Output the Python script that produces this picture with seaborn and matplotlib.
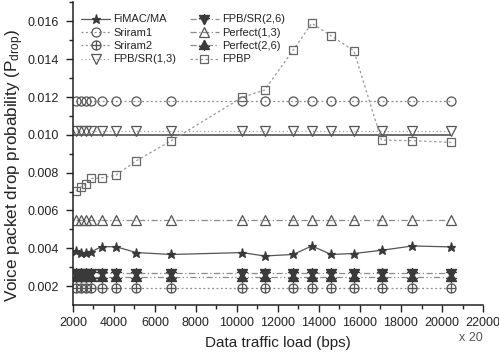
import numpy as np
import pandas as pd
import matplotlib
matplotlib.use("Agg")
import matplotlib.pyplot as plt
from matplotlib.path import Path
from matplotlib.markers import MarkerStyle
import seaborn as sns

# Offered data load (in units of 20 bps)
load = [2150, 2400, 2650, 2900, 3400, 4100, 5100, 6800, 10250, 11350,
        12750, 13650, 14600, 15700, 17050, 18550, 20450]

fimac_ma = [0.00385, 0.00375, 0.00375, 0.00382, 0.00408, 0.00408, 0.00377, 0.00367,
            0.00377, 0.00359, 0.00367, 0.00412, 0.00367, 0.00372, 0.00389, 0.00412, 0.00407]
sriram1 = [0.0118] * len(load)
sriram2 = [0.0019] * len(load)
fpb_sr_13 = [0.0102] * len(load)
fpb_sr_26 = [0.0027] * len(load)
perfect_13 = [0.0055] * len(load)
perfect_26 = [0.0025] * len(load)
fpbp = [0.00702, 0.00725, 0.00739, 0.00769, 0.00772, 0.00787, 0.00863, 0.00969,
        0.01198, 0.01237, 0.01449, 0.01590, 0.01523, 0.01445, 0.00972, 0.00969, 0.00960]

drop_threshold = 0.010

x_ticks = [2000, 4000, 6000, 8000, 10000, 12000, 14000, 16000, 18000, 20000, 22000]
y_ticks = [0.002, 0.004, 0.006, 0.008, 0.010, 0.012, 0.014, 0.016]

# Composite marker shapes (symbol with a cross inside)
def _compound(*parts):
    return Path.make_compound_path(*parts)

def _seg(a, b):
    return Path([a, b], [Path.MOVETO, Path.LINETO])

circle_plus = _compound(Path.unit_circle(), _seg((-1, 0), (1, 0)), _seg((0, -1), (0, 1)))
tri_down = Path([(-1, 0.8), (1, 0.8), (0, -1), (-1, 0.8)],
                [Path.MOVETO, Path.LINETO, Path.LINETO, Path.CLOSEPOLY])
tri_up = Path([(-1, -0.8), (1, -0.8), (0, 1), (-1, -0.8)],
              [Path.MOVETO, Path.LINETO, Path.LINETO, Path.CLOSEPOLY])
tri_down_plus = _compound(tri_down, _seg((-1.1, 0.2), (1.1, 0.2)), _seg((0, 1.1), (0, -1.1)))
tri_up_plus = _compound(tri_up, _seg((-1.1, -0.2), (1.1, -0.2)), _seg((0, 1.1), (0, -1.1)))

sns.set_style("ticks")
plt.rcParams["font.family"] = ["Liberation Sans", "DejaVu Sans"]
plt.rcParams["mathtext.fontset"] = "custom"
plt.rcParams["mathtext.rm"] = "Liberation Sans"
plt.rcParams["mathtext.it"] = "Liberation Sans"

fig = plt.figure(figsize=(4.99, 3.55), dpi=100)
ax = fig.add_axes([0.146, 0.141, 0.822, 0.852])

line_col = "#8a8a8a"
mark_col = "#3a3a3a"

series = [
    ("FiMAC/MA", fimac_ma, dict(marker="*", markersize=6.5, linestyle="-", color="#555555",
                                 markerfacecolor=mark_col, markeredgecolor=mark_col)),
    ("Sriram1", sriram1, dict(marker="o", markersize=6.5, linestyle=(0, (1.5, 2)), color=line_col,
                               markerfacecolor="none", markeredgecolor="#555555")),
    ("Sriram2", sriram2, dict(marker=MarkerStyle(circle_plus), markersize=6.5,
                               linestyle=(0, (1.5, 2)), color=line_col,
                               markerfacecolor="none", markeredgecolor="#555555")),
    ("FPB/SR(1,3)", fpb_sr_13, dict(marker="v", markersize=7, linestyle=(0, (1, 2)), color="#a0a0a0",
                                     markerfacecolor="none", markeredgecolor="#555555")),
    ("FPB/SR(2,6)", fpb_sr_26, dict(marker=MarkerStyle(tri_down_plus), markersize=8,
                                     linestyle=(0, (5, 2, 1, 2)), color=line_col,
                                     markerfacecolor=mark_col, markeredgecolor=mark_col)),
    ("Perfect(1,3)", perfect_13, dict(marker="^", markersize=7, linestyle=(0, (5, 2, 1, 2)),
                                       color=line_col, markerfacecolor="none",
                                       markeredgecolor="#555555")),
    ("Perfect(2,6)", perfect_26, dict(marker=MarkerStyle(tri_up_plus), markersize=8,
                                       linestyle=(0, (5, 2, 1, 2, 1, 2)), color=line_col,
                                       markerfacecolor=mark_col, markeredgecolor=mark_col)),
    ("FPBP", fpbp, dict(marker="s", markersize=6, linestyle=(0, (2, 2)), color="#999999",
                         markerfacecolor="none", markeredgecolor="#666666")),
]

for name, values, style in series:
    df = pd.DataFrame({"load": load, "drop": values})
    sns.lineplot(data=df, x="load", y="drop", ax=ax, label=name, sort=False,
                 errorbar=None, linewidth=0.9, markeredgewidth=0.9, **style)

ax.hlines(drop_threshold, x_ticks[0], load[-1], colors="#444444", linewidth=1.1, zorder=1)

ax.set_xlim(2000, 22000)
ax.set_ylim(0.001, 0.017)
ax.set_xticks(x_ticks)
ax.set_yticks(y_ticks)
ax.set_xticks(np.arange(3000, 22000, 2000), minor=True)
ax.set_yticks(np.arange(0.003, 0.0171, 0.002), minor=True)
ax.set_yticklabels([f"{v:.3f}" for v in y_ticks])
ax.tick_params(axis="both", which="major", direction="out", length=5, width=1,
               labelsize=9, colors="#222222")
ax.tick_params(axis="y", which="major", pad=5)
ax.tick_params(axis="both", which="minor", direction="out", length=3, width=1)
sns.despine(ax=ax)
for sp in ("left", "bottom"):
    ax.spines[sp].set_linewidth(1.1)
    ax.spines[sp].set_color("#222222")

ax.set_xlabel("Data traffic load (bps)", fontsize=11, color="#222222", labelpad=5)
ax.set_ylabel("Voice packet drop probability (P$_{drop}$)", fontsize=12.3, color="#222222")
ax.yaxis.set_label_coords(-0.115, 0.46)
ax.text(1.0, -0.108, "x 20", transform=ax.transAxes, ha="right", va="center",
        fontsize=9, color="#555555")

leg = ax.legend(ncol=2, loc="upper left", bbox_to_anchor=(0.01, 0.975), frameon=False,
                fontsize=8, handlelength=2.6, handletextpad=0.3, columnspacing=1.2,
                labelspacing=0.3, borderaxespad=0)
for t in leg.get_texts():
    t.set_color("#222222")

fig.savefig("out.png", dpi=100)
